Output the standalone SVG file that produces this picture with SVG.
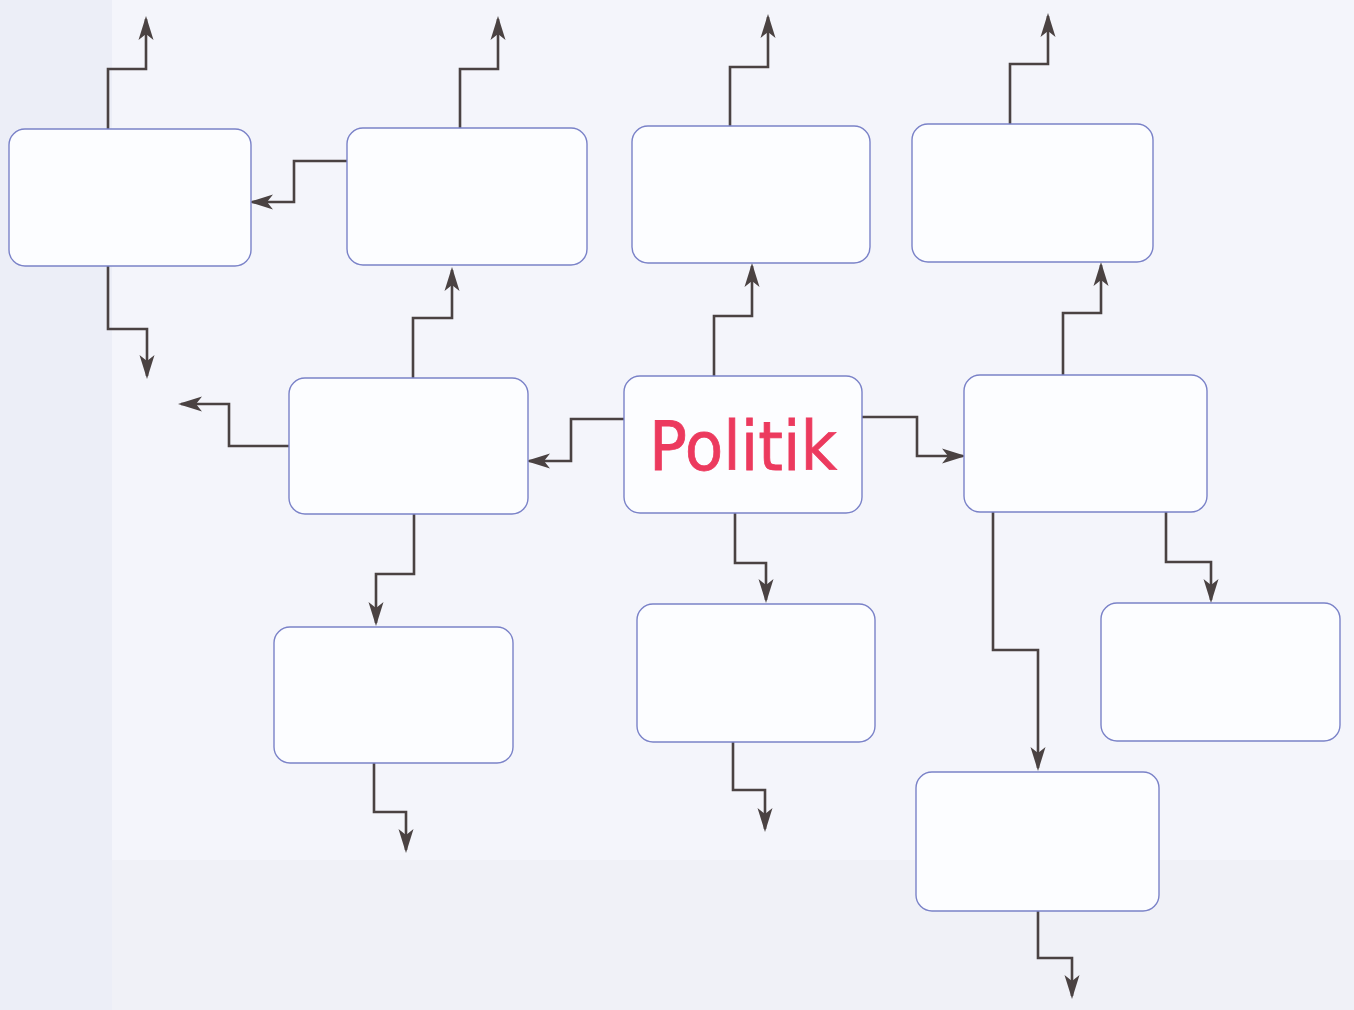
<svg xmlns="http://www.w3.org/2000/svg" width="1354" height="1010" viewBox="0 0 1354 1010">
<defs>
<style>
.node rect{fill:#fcfdff;stroke:#7a82c8;stroke-width:1.4}
#connectors path{fill:none;stroke:#4a4242;stroke-width:2.6;marker-end:url(#arr)}
.lbl{font-family:"Comic Sans MS","DejaVu Sans",sans-serif;font-size:68px;fill:#ec3a5e;stroke:#ec3a5e;stroke-width:0.8}
</style>
<marker id="arr" markerUnits="userSpaceOnUse" markerWidth="30" markerHeight="20" viewBox="-26 -10 30 20" refX="0" refY="0" orient="auto">
<path d="M3,0 L-21,-7.5 L-15,0 L-21,7.5 Z" fill="#4a4242"/>
</marker>
</defs>
<rect x="0" y="0" width="1354" height="1010" fill="#f4f5fb"/>
<rect x="0" y="0" width="112" height="1010" fill="#eceef7"/>
<rect x="112" y="860" width="1242" height="150" fill="#eceef5" opacity="0.6"/>
<g id="connectors">
<path d="M108,129 V69 H146 V19"/>
<path d="M108,266 V329 H147 V376"/>
<path d="M460,128 V69 H498 V19"/>
<path d="M347,161 H294 V202 H252"/>
<path d="M413,378 V318 H452 V270"/>
<path d="M730,126 V67 H768 V17"/>
<path d="M1010,124 V64 H1048 V16"/>
<path d="M714,376 V316 H752 V266"/>
<path d="M1063,375 V313 H1101 V265"/>
<path d="M289,446 H229 V404 H181"/>
<path d="M624,419 H571 V461 H529"/>
<path d="M414,514 V574 H376 V623"/>
<path d="M374,763 V812 H406 V850"/>
<path d="M862,417 H917 V456 H963"/>
<path d="M735,513 V563 H766 V600"/>
<path d="M733,742 V790 H765 V829"/>
<path d="M993,512 V650 H1038 V768"/>
<path d="M1166,512 V562 H1211 V600"/>
<path d="M1038,911 V958 H1072 V996"/>
</g>
<g id="nodeA" class="node"><rect x="9" y="129" width="242" height="137" rx="16"/></g>
<g id="nodeB" class="node"><rect x="347" y="128" width="240" height="137" rx="16"/></g>
<g id="nodeC" class="node"><rect x="632" y="126" width="238" height="137" rx="16"/></g>
<g id="nodeD" class="node"><rect x="912" y="124" width="241" height="138" rx="16"/></g>
<g id="nodeE" class="node"><rect x="289" y="378" width="239" height="136" rx="16"/></g>
<g id="nodePolitik" class="node"><rect x="624" y="376" width="238" height="137" rx="16"/>
<text class="lbl" x="743" y="470" text-anchor="middle" textLength="188" lengthAdjust="spacingAndGlyphs">Politik</text></g>
<g id="nodeF" class="node"><rect x="964" y="375" width="243" height="137" rx="16"/></g>
<g id="nodeG" class="node"><rect x="274" y="627" width="239" height="136" rx="16"/></g>
<g id="nodeH" class="node"><rect x="637" y="604" width="238" height="138" rx="16"/></g>
<g id="nodeI" class="node"><rect x="1101" y="603" width="239" height="138" rx="16"/></g>
<g id="nodeJ" class="node"><rect x="916" y="772" width="243" height="139" rx="16"/></g>
</svg>
